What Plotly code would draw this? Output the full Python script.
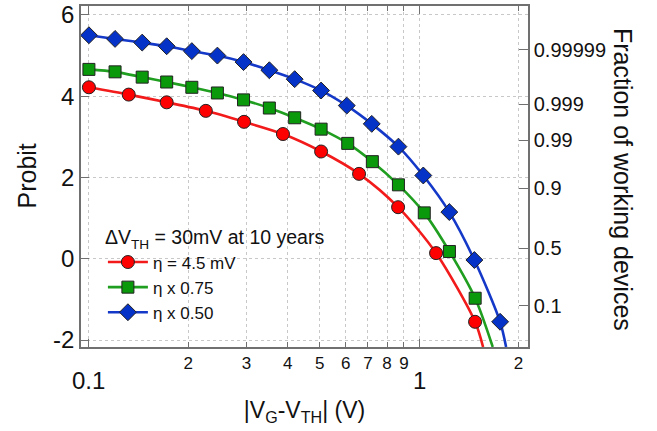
import math
import plotly.graph_objects as go

# ---- data ----
red_x = [0.100, 0.132, 0.172, 0.226, 0.295, 0.387, 0.505, 0.658, 0.864, 1.126, 1.478]
red_y = [4.22, 4.04, 3.85, 3.64, 3.37, 3.07, 2.64, 2.09, 1.27, 0.14, -1.55]
red_end = (1.563, -2.17)

green_x = [0.100, 0.120, 0.145, 0.172, 0.205, 0.245, 0.294, 0.352, 0.420, 0.505,
           0.608, 0.722, 0.866, 1.037, 1.236, 1.479]
green_y = [4.66, 4.60, 4.47, 4.35, 4.22, 4.08, 3.91, 3.71, 3.47, 3.19,
           2.84, 2.39, 1.82, 1.13, 0.18, -0.97]
green_end = (1.672, -2.17)

blue_x = [0.100, 0.120, 0.145, 0.172, 0.205, 0.245, 0.294, 0.352, 0.420, 0.505,
          0.604, 0.719, 0.866, 1.030, 1.235, 1.471, 1.760]
blue_y = [5.50, 5.41, 5.32, 5.23, 5.11, 5.00, 4.84, 4.64, 4.42, 4.14,
          3.77, 3.32, 2.76, 2.05, 1.15, -0.03, -1.55]
blue_end = (1.835, -2.17)

series_names = ["η = 4.5 mV", "η x 0.75", "η x 0.50"]
legend_title = "ΔV<sub>TH</sub> = 30mV at 10 years"

x_tickvals = [0.2, 0.3, 0.4, 0.5, 0.6, 0.7, 0.8, 0.9, 2]
x_ticktext = ["2", "3", "4", "5", "6", "7", "8", "9", "2"]
x_major = [0.1, 1]
x_major_text = ["0.1", "1"]

y_tickvals = [-2, 0, 2, 4, 6]
y_ticktext = ["-2", "0", "2", "4", "6"]
y2_tickvals = [-1.16, 0.26, 1.73, 2.92, 3.80, 5.14]
y2_ticktext = ["0.1", "0.5", "0.9", "0.99", "0.999", "0.99999"]

y_range = [-2.17, 6.22]
x_range_log = [-1.024, 0.330]

# ---- styles ----
FONT = "Arial, Liberation Sans, sans-serif"
line_cols = ["#f21a1a", "#1f9e1f", "#1438c8"]
mark_cols = ["#ff0000", "#0a990a", "#0533c8"]
symbols = ["circle", "square", "diamond"]
sizes = [13, 12, 13]

fig = go.Figure()
data = [(red_x, red_y, red_end), (green_x, green_y, green_end), (blue_x, blue_y, blue_end)]
for i, (xs, ys, end) in enumerate(data):
    fig.add_trace(go.Scatter(x=xs + [end[0]], y=ys + [end[1]], mode="lines",
                             line=dict(color=line_cols[i], width=2.6, shape="spline", smoothing=0.8),
                             showlegend=False, hoverinfo="skip"))
for i, (xs, ys, end) in enumerate(data):
    fig.add_trace(go.Scatter(x=xs, y=ys, mode="markers",
                             marker=dict(symbol=symbols[i], size=sizes[i], color=mark_cols[i],
                                         line=dict(color="#222222", width=1)),
                             showlegend=False))
for i in range(3):
    fig.add_trace(go.Scatter(x=[None], y=[None], mode="lines+markers", name=series_names[i],
                             line=dict(color=line_cols[i], width=2.6),
                             marker=dict(symbol=symbols[i], size=sizes[i], color=mark_cols[i],
                                         line=dict(color="#222222", width=1))))
# dummy trace for right axis
fig.add_trace(go.Scatter(x=[None], y=[None], yaxis="y2", showlegend=False))

axis_line = "#707070"
grid_col = "#c8c8c8"

fig.update_layout(
    width=657, height=431,
    margin=dict(l=81, r=129, t=6, b=84, autoexpand=False),
    paper_bgcolor="white", plot_bgcolor="white",
    font=dict(family=FONT, color="#111111"),
    xaxis=dict(type="log", range=x_range_log, tickvals=x_tickvals, ticktext=x_ticktext,
               tickfont=dict(size=17), ticks="inside", ticklen=5, tickcolor=axis_line,
               showline=True, linecolor=axis_line, linewidth=1.5, mirror="allticks",
               showgrid=True, gridcolor=grid_col, griddash="dot", gridwidth=1,
               zeroline=False,
               minor=dict(tickvals=x_major, ticks="inside", ticklen=8, tickcolor=axis_line,
                          showgrid=True, gridcolor=grid_col, griddash="dot", gridwidth=1),
               title=dict(text="|V<sub>G</sub>-V<sub>TH</sub>| (V)", font=dict(size=23), standoff=30)),
    yaxis=dict(range=y_range, tickvals=y_tickvals, ticktext=y_ticktext, tickfont=dict(size=24),
               ticks="inside", ticklen=8, tickcolor=axis_line,
               showline=True, linecolor=axis_line, linewidth=1.5, mirror=True,
               showgrid=True, gridcolor=grid_col, griddash="dot", gridwidth=1,
               zeroline=False),
    yaxis2=dict(range=y_range, overlaying="y", side="right", tickvals=y2_tickvals,
                ticktext=y2_ticktext, tickfont=dict(size=20), ticks="inside", ticklen=9,
                tickcolor=axis_line, showline=True, linecolor=axis_line, linewidth=1.5,
                showgrid=False, zeroline=False),
    legend=dict(x=0.049, y=0.375, xanchor="left", yanchor="top", bgcolor="rgba(0,0,0,0)",
                font=dict(size=17), title=dict(text=legend_title, font=dict(size=19.5)),
                tracegroupgap=0, itemwidth=40),
    showlegend=True,
)

for v, t in zip(x_major, x_major_text):
    fig.add_annotation(x=math.log10(v), y=-0.097, xref="x", yref="paper", text=t,
                       showarrow=False, font=dict(size=24), xanchor="center", yanchor="middle")

fig.add_annotation(x=-0.123, y=0.5, xref="paper", yref="paper",
                   text="Probit", textangle=-90, showarrow=False,
                   font=dict(size=25), xanchor="center", yanchor="middle")

fig.add_annotation(x=1.2125, y=0.49, xref="paper", yref="paper",
                   text="Fraction of working devices", textangle=90, showarrow=False,
                   font=dict(size=25), xanchor="center", yanchor="middle")

fig.write_html("out.html")
